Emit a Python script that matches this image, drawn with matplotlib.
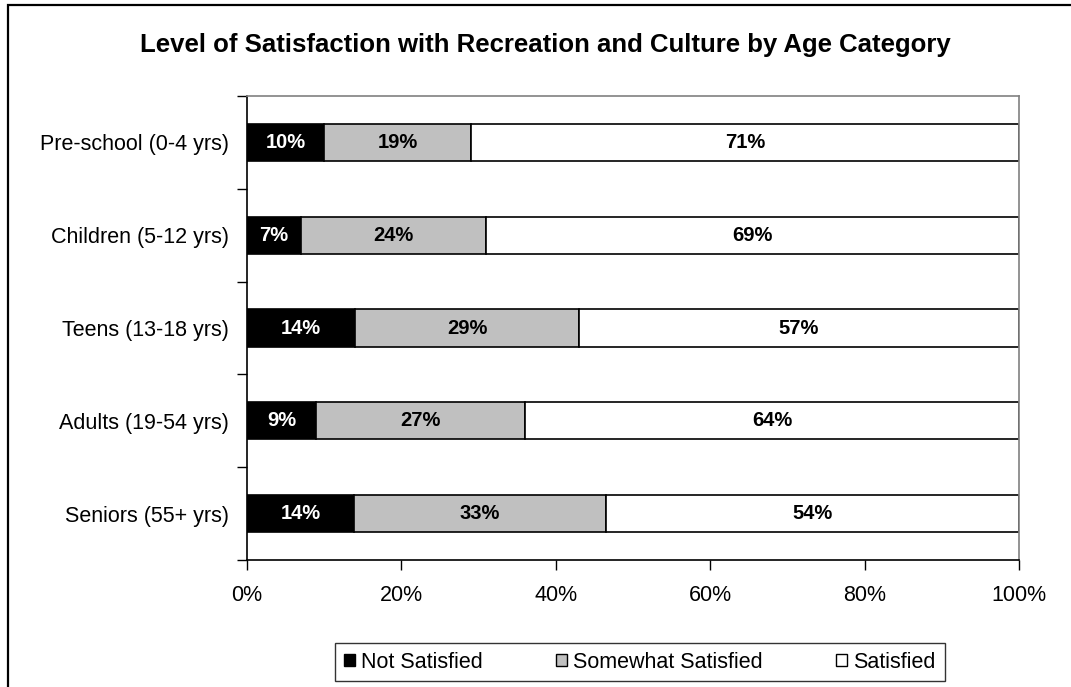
import matplotlib.pyplot as plt
from matplotlib.patches import Rectangle, Patch
import numpy as np

plt.rcParams['font.family'] = ['Liberation Sans', 'DejaVu Sans']

categories = ['Pre-school (0-4 yrs)', 'Children (5-12 yrs)', 'Teens (13-18 yrs)',
              'Adults (19-54 yrs)', 'Seniors (55+ yrs)']
not_satisfied = [10, 7, 14, 9, 14]
somewhat = [19, 24, 29, 27, 33]
satisfied = [71, 69, 57, 64, 54]

series = ['Not Satisfied', 'Somewhat Satisfied', 'Satisfied']
colors = ['black', '#c0c0c0', 'white']
text_colors = ['white', 'black', 'black']

vals = np.array([not_satisfied, somewhat, satisfied], dtype=float)
# 100% stacked: each row is scaled to its own total
shares = vals / vals.sum(axis=0) * 100

fig = plt.figure(figsize=(10.71, 6.87), dpi=100)
ax = fig.add_axes([247 / 1071, 127 / 687, 772 / 1071, 464 / 687])

y = np.arange(len(categories))[::-1]
left = np.zeros(len(categories))
for i in range(3):
    ax.barh(y, shares[i], left=left, height=0.4, color=colors[i],
            edgecolor='black', linewidth=1.2, label=series[i])
    for j in range(len(categories)):
        ax.text(left[j] + shares[i][j] / 2, y[j], f'{int(vals[i][j])}%',
                ha='center', va='center', fontsize=14.5, fontweight='bold',
                color=text_colors[i])
    left += shares[i]

ax.set_xlim(0, 100)
ax.set_ylim(-0.5, len(categories) - 0.5)
ax.set_xticks(np.arange(0, 101, 20))
ax.set_xticklabels([f'{t}%' for t in range(0, 101, 20)], fontsize=15.5)
ax.set_yticks(y)
ax.set_yticklabels(categories, fontsize=15.5)
ax.set_yticks(np.arange(-0.5, len(categories), 1), minor=True)
ax.tick_params(axis='y', which='major', length=0, pad=13)
ax.tick_params(axis='y', which='minor', length=7, width=1, direction='out')
ax.tick_params(axis='x', length=7, width=1, direction='out', pad=11)

for s in ['top', 'right']:
    ax.spines[s].set_color('#808080')
    ax.spines[s].set_linewidth(1.2)
for s in ['left', 'bottom']:
    ax.spines[s].set_linewidth(1.2)

fig.text(545 / 1071, 1 - 45 / 687, 'Level of Satisfaction with Recreation and Culture by Age Category',
         ha='center', va='center', fontsize=18.5, fontweight='bold')

handles = [Patch(facecolor=c, edgecolor='black', linewidth=1) for c in colors]
leg = fig.legend(handles, series, loc='center', bbox_to_anchor=(640 / 1071, 1 - 662 / 687),
                 ncol=3, fontsize=15.5, frameon=True, fancybox=False,
                 handlelength=0.5, handleheight=0.5, handletextpad=0.3,
                 columnspacing=3.4, borderpad=0.4, borderaxespad=0)
leg.get_frame().set_edgecolor('black')
leg.get_frame().set_linewidth(1)

# outer chart frame
fig.patches.append(Rectangle((8 / 1071, -0.1), 1.2, 1.1 - 5 / 687, transform=fig.transFigure,
                             fill=False, edgecolor='black', linewidth=1.6))

fig.savefig('out.png', dpi=100)
